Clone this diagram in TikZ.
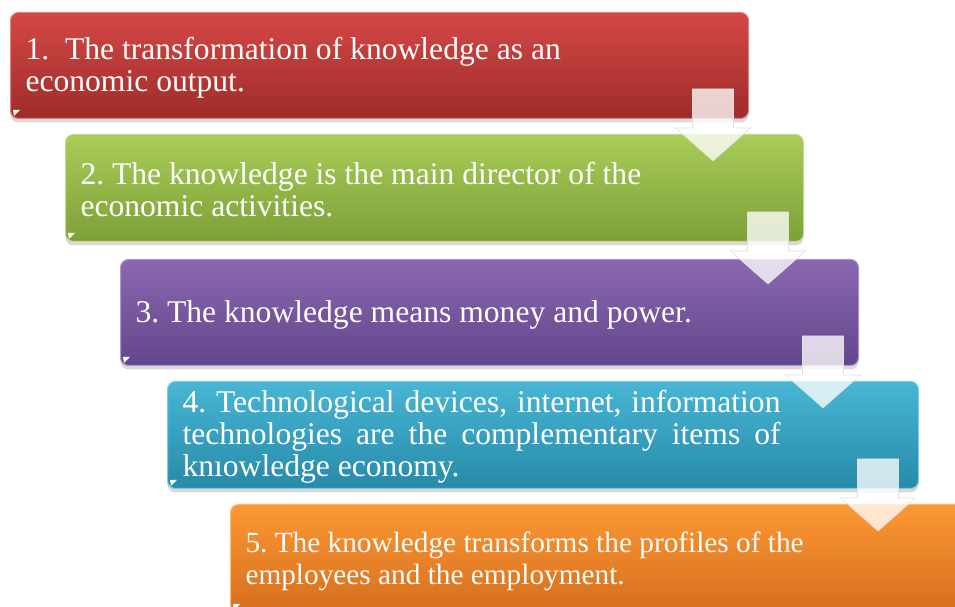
\documentclass[tikz,border=0pt]{standalone}
\usepackage{fontspec}
\setmainfont{Liberation Serif}
\usetikzlibrary{positioning,calc,shadows}

\definecolor{redtop}{RGB}{212,72,70}
\definecolor{redbot}{RGB}{158,44,42}
\definecolor{greentop}{RGB}{170,204,88}
\definecolor{greenbot}{RGB}{124,160,56}
\definecolor{purpletop}{RGB}{138,104,176}
\definecolor{purplebot}{RGB}{98,70,140}
\definecolor{bluetop}{RGB}{72,182,212}
\definecolor{bluebot}{RGB}{38,138,168}
\definecolor{orangetop}{RGB}{252,152,52}
\definecolor{orangebot}{RGB}{214,110,30}

\begin{document}
\frenchspacing
\begin{tikzpicture}[
  x=1pt, y=1pt,
  node distance=15pt and 55pt, % vertical and horizontal step of the stairs
  box/.style={rounded corners=8pt, inner xsep=15pt, inner ysep=0pt, align=flush left,
    text=white, font=\fontsize{31.6}{32}\selectfont, line width=1pt,
    execute at begin node={\spaceskip=0pt\xspaceskip=0pt\rule{0pt}{26pt}},
    drop shadow={shadow xshift=0pt, shadow yshift=-4pt, opacity=0.3}}, % style of the step boxes
  red box/.style={box, top color=redtop, bottom color=redbot, draw=redtop!70!white},
  green box/.style={box, top color=greentop, bottom color=greenbot, draw=greentop!70!white},
  purple box/.style={box, top color=purpletop, bottom color=purplebot, draw=purpletop!70!white},
  blue box/.style={box, top color=bluetop, bottom color=bluebot, draw=bluetop!70!white},
  orange box/.style={box, top color=orangetop, bottom color=orangebot, draw=orangetop!70!white},
  down arrow/.style={fill=white, fill opacity=0.78, draw=black!12, line width=0.6pt} % style of the block arrows
  ]

  \useasboundingbox (0,0) rectangle (955,607);
  \clip (0,0) rectangle (955,607);

  \node[red box, anchor=north west, minimum width=738pt, minimum height=106pt, text width=708pt] (b1) at (10,595)
    {1.\ \ The transformation of knowledge as an\\economic output.};
  \node[green box, minimum width=738pt, minimum height=107pt, text width=708pt] (b2) [below right=of b1.south west]
    {2. The knowledge is the main director of the\\economic activities.};
  \node[purple box, minimum width=738pt, minimum height=106pt, text width=708pt] (b3) [below right=17pt and 55pt of b2.south west]
    {3. The knowledge means money and power.};
  \node[blue box, minimum width=751pt, minimum height=107pt, text width=721pt] (b4) [below right=15pt and 47pt of b3.south west]
    {\makebox[598pt][s]{4. Technological devices, internet, information}\\
     \makebox[598pt][s]{technologies are the complementary items of}\\
     kn\i owledge economy.};
  \node[orange box, font=\fontsize{29.3}{31.5}\selectfont, minimum width=760pt, minimum height=108pt, text width=730pt] (b5) [below right=15pt and 63pt of b4.south west]
    {5. The knowledge transforms the profiles of the\\employees and the employment.};

  % little light corners of the boxes
  \foreach \b in {b1,b2,b3,b4,b5}
    \fill[white] ($(\b.south west)+(3,9)$) -- ++(7,0) -- ++(-6,-6) -- cycle;

  % block arrows from one step down to the next
  \foreach \from/\dx in {b1/-36, b2/-36, b3/-36, b4/-41}
    \draw[down arrow] ($(\from.south east)+(\dx-20.5,30)$) -- ++(41,0) -- ++(0,-39) -- ++(17,0)
      -- ++(-37.5,-33) -- ++(-37.5,33) -- ++(17,0) -- cycle;
\end{tikzpicture}
\end{document}
